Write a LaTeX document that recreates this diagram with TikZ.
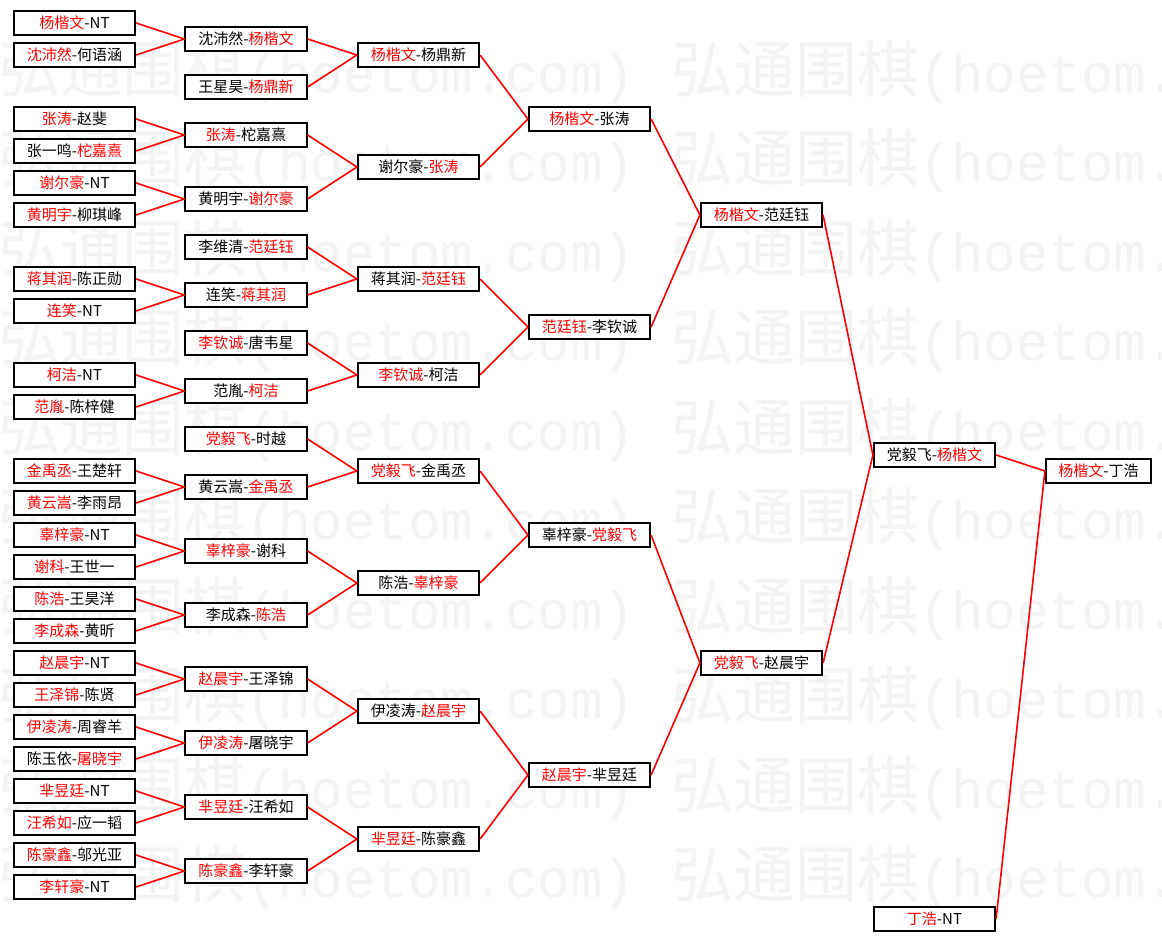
\documentclass[tikz,border=0pt]{standalone}
\usepackage{fontspec}
\setmainfont{Noto Sans CJK SC}
\newfontfamily\wmmono{Liberation Mono}
\definecolor{winred}{RGB}{255, 0, 0}
\definecolor{wmgray}{RGB}{244, 244, 244}
\newcommand{\win}[1]{\textcolor{winred}{#1}}
\newcommand{\wmtext}{{\fontsize{62}{62}\selectfont 弘通围棋\fontsize{54}{54}\wmmono\selectfont(hoetom.com)}}
\newcommand{\wmrow}{\makebox[673pt][l]{\wmtext}\wmtext}

\begin{document}
\begin{tikzpicture}[
  x=1pt, y=-1pt,
  mbox/.style={draw=black, line width=1.7pt, fill=white, minimum width=121.5pt, minimum height=24.5pt, inner sep=0pt, font=\fontsize{15}{15}\selectfont},
  wire/.style={draw=winred, line width=1.6pt, line join=round},
  wm/.style={anchor=west, inner sep=0pt, text=wmgray}
]
  \useasboundingbox (0, 0) rectangle (1162, 941);
  \fill[white] (0, 0) rectangle (1162, 941);

  \node[wm] (w1) at (-2, 72) {\wmrow};
  \node[wm] (w2) at (-2, 161.5) {\wmrow};
  \node[wm] (w3) at (-2, 251) {\wmrow};
  \node[wm] (w4) at (-2, 340.5) {\wmrow};
  \node[wm] (w5) at (-2, 430) {\wmrow};
  \node[wm] (w6) at (-2, 519.5) {\wmrow};
  \node[wm] (w7) at (-2, 609) {\wmrow};
  \node[wm] (w8) at (-2, 698.5) {\wmrow};
  \node[wm] (w9) at (-2, 788) {\wmrow};
  \node[wm] (w10) at (-2, 877.5) {\wmrow};

  \node[mbox] (A1) at (74.5, 23) {\win{杨楷文}-NT};
  \node[mbox] (A2) at (74.5, 55) {\win{沈沛然}-何语涵};
  \node[mbox] (A3) at (74.5, 119) {\win{张涛}-赵斐};
  \node[mbox] (A4) at (74.5, 151) {张一鸣-\win{柁嘉熹}};
  \node[mbox] (A5) at (74.5, 183) {\win{谢尔豪}-NT};
  \node[mbox] (A6) at (74.5, 215) {\win{黄明宇}-柳琪峰};
  \node[mbox] (A7) at (74.5, 279) {\win{蒋其润}-陈正勋};
  \node[mbox] (A8) at (74.5, 311) {\win{连笑}-NT};
  \node[mbox] (A9) at (74.5, 375) {\win{柯洁}-NT};
  \node[mbox] (A10) at (74.5, 407) {\win{范胤}-陈梓健};
  \node[mbox] (A11) at (74.5, 471) {\win{金禹丞}-王楚轩};
  \node[mbox] (A12) at (74.5, 503) {\win{黄云嵩}-李雨昂};
  \node[mbox] (A13) at (74.5, 535) {\win{辜梓豪}-NT};
  \node[mbox] (A14) at (74.5, 567) {\win{谢科}-王世一};
  \node[mbox] (A15) at (74.5, 599) {\win{陈浩}-王昊洋};
  \node[mbox] (A16) at (74.5, 631) {\win{李成森}-黄昕};
  \node[mbox] (A17) at (74.5, 663) {\win{赵晨宇}-NT};
  \node[mbox] (A18) at (74.5, 695) {\win{王泽锦}-陈贤};
  \node[mbox] (A19) at (74.5, 727) {\win{伊凌涛}-周睿羊};
  \node[mbox] (A20) at (74.5, 759) {陈玉依-\win{屠晓宇}};
  \node[mbox] (A21) at (74.5, 791) {\win{芈昱廷}-NT};
  \node[mbox] (A22) at (74.5, 823) {\win{汪希如}-应一韬};
  \node[mbox] (A23) at (74.5, 855) {\win{陈豪鑫}-邬光亚};
  \node[mbox] (A24) at (74.5, 887) {\win{李轩豪}-NT};

  \node[mbox] (B1) at (246, 39) {沈沛然-\win{杨楷文}};
  \node[mbox] (B2) at (246, 87) {王星昊-\win{杨鼎新}};
  \node[mbox] (B3) at (246, 135) {\win{张涛}-柁嘉熹};
  \node[mbox] (B4) at (246, 199) {黄明宇-\win{谢尔豪}};
  \node[mbox] (B5) at (246, 247) {李维清-\win{范廷钰}};
  \node[mbox] (B6) at (246, 295) {连笑-\win{蒋其润}};
  \node[mbox] (B7) at (246, 343) {\win{李钦诚}-唐韦星};
  \node[mbox] (B8) at (246, 391) {范胤-\win{柯洁}};
  \node[mbox] (B9) at (246, 439) {\win{党毅飞}-时越};
  \node[mbox] (B10) at (246, 487) {黄云嵩-\win{金禹丞}};
  \node[mbox] (B11) at (246, 551) {\win{辜梓豪}-谢科};
  \node[mbox] (B12) at (246, 615) {李成森-\win{陈浩}};
  \node[mbox] (B13) at (246, 679) {\win{赵晨宇}-王泽锦};
  \node[mbox] (B14) at (246, 743) {\win{伊凌涛}-屠晓宇};
  \node[mbox] (B15) at (246, 807) {\win{芈昱廷}-汪希如};
  \node[mbox] (B16) at (246, 871) {\win{陈豪鑫}-李轩豪};

  \node[mbox] (C1) at (418.5, 55) {\win{杨楷文}-杨鼎新};
  \node[mbox] (C2) at (418.5, 167) {谢尔豪-\win{张涛}};
  \node[mbox] (C3) at (418.5, 279) {蒋其润-\win{范廷钰}};
  \node[mbox] (C4) at (418.5, 375) {\win{李钦诚}-柯洁};
  \node[mbox] (C5) at (418.5, 471) {\win{党毅飞}-金禹丞};
  \node[mbox] (C6) at (418.5, 583) {陈浩-\win{辜梓豪}};
  \node[mbox] (C7) at (418.5, 711) {伊凌涛-\win{赵晨宇}};
  \node[mbox] (C8) at (418.5, 839) {\win{芈昱廷}-陈豪鑫};

  \node[mbox] (D1) at (589.5, 119) {\win{杨楷文}-张涛};
  \node[mbox] (D2) at (589.5, 327) {\win{范廷钰}-李钦诚};
  \node[mbox] (D3) at (589.5, 535) {辜梓豪-\win{党毅飞}};
  \node[mbox] (D4) at (589.5, 775) {\win{赵晨宇}-芈昱廷};

  \node[mbox] (E1) at (761.5, 215) {\win{杨楷文}-范廷钰};
  \node[mbox] (E2) at (761.5, 663) {\win{党毅飞}-赵晨宇};

  \node[mbox] (F1) at (934.5, 455) {党毅飞-\win{杨楷文}};
  \node[mbox] (F2) at (934.5, 919) {\win{丁浩}-NT};

  \node[mbox, minimum width=105.5pt] (G1) at (1098.5, 471) {\win{杨楷文}-丁浩};

  \draw[wire] (A1.east) -- (B1.west) -- (A2.east);
  \draw[wire] (A3.east) -- (B3.west) -- (A4.east);
  \draw[wire] (A5.east) -- (B4.west) -- (A6.east);
  \draw[wire] (A7.east) -- (B6.west) -- (A8.east);
  \draw[wire] (A9.east) -- (B8.west) -- (A10.east);
  \draw[wire] (A11.east) -- (B10.west) -- (A12.east);
  \draw[wire] (A13.east) -- (B11.west) -- (A14.east);
  \draw[wire] (A15.east) -- (B12.west) -- (A16.east);
  \draw[wire] (A17.east) -- (B13.west) -- (A18.east);
  \draw[wire] (A19.east) -- (B14.west) -- (A20.east);
  \draw[wire] (A21.east) -- (B15.west) -- (A22.east);
  \draw[wire] (A23.east) -- (B16.west) -- (A24.east);

  \draw[wire] (B1.east) -- (C1.west) -- (B2.east);
  \draw[wire] (B3.east) -- (C2.west) -- (B4.east);
  \draw[wire] (B5.east) -- (C3.west) -- (B6.east);
  \draw[wire] (B7.east) -- (C4.west) -- (B8.east);
  \draw[wire] (B9.east) -- (C5.west) -- (B10.east);
  \draw[wire] (B11.east) -- (C6.west) -- (B12.east);
  \draw[wire] (B13.east) -- (C7.west) -- (B14.east);
  \draw[wire] (B15.east) -- (C8.west) -- (B16.east);

  \draw[wire] (C1.east) -- (D1.west) -- (C2.east);
  \draw[wire] (C3.east) -- (D2.west) -- (C4.east);
  \draw[wire] (C5.east) -- (D3.west) -- (C6.east);
  \draw[wire] (C7.east) -- (D4.west) -- (C8.east);

  \draw[wire] (D1.east) -- (E1.west) -- (D2.east);
  \draw[wire] (D3.east) -- (E2.west) -- (D4.east);

  \draw[wire] (E1.east) -- (F1.west) -- (E2.east);

  \draw[wire] (F1.east) -- (G1.west) -- (F2.east);
\end{tikzpicture}
\end{document}
